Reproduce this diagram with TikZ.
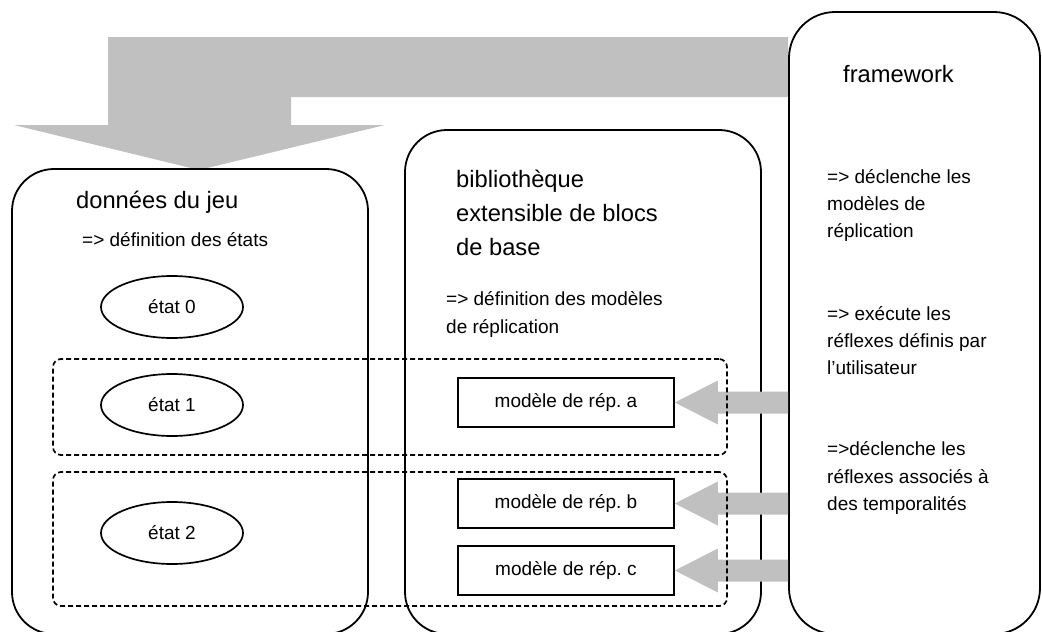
\documentclass[tikz,border=0pt]{standalone}
\usepackage{fontspec}
\setmainfont{Liberation Sans}
\usetikzlibrary{shapes.geometric,calc}
\definecolor{arrowgray}{RGB}{192,192,192}
\frenchspacing
\begin{document}
\begin{tikzpicture}[x=1pt,y=-1pt,
  bigtext/.style={font=\fontsize{23.7}{28}\selectfont, anchor=base west, inner sep=0pt},
  smalltext/.style={font=\fontsize{19}{23}\selectfont, anchor=base west, inner sep=0pt},
  bigbox/.style={draw, line width=1.8pt, rounded corners=42pt, inner sep=0pt},
  groupbox/.style={draw, line width=1.7pt, dash pattern=on 5pt off 3pt, rounded corners=8pt, inner sep=0pt, minimum width=674pt},
  stateell/.style={draw, ellipse, line width=1.7pt, inner sep=0pt, minimum width=142pt, minimum height=62pt, font=\fontsize{19}{23}\selectfont},
  modelbox/.style={draw, line width=1.7pt, inner sep=0pt, minimum width=216pt, minimum height=49pt, font=\fontsize{19}{23}\selectfont},
  blockarrow/.style={fill=arrowgray, draw=none}
]
\useasboundingbox (0,0) rectangle (1042,632);
\clip (0,0) rectangle (1042,632);

% big top arrow
\fill[blockarrow] (108,37) -- (788,37) -- (788,97) -- (291,97) -- (291,125)
  -- (385,125) -- (199,170) -- (14,125) -- (108,125) -- cycle;

% main boxes
\node[bigbox, minimum width=356pt, minimum height=465pt] (dj) at (190,401.5) {};
\node[bigbox, minimum width=356pt, minimum height=504pt] (bib) at (583,382) {};
\node[bigbox, rounded corners=46pt, minimum width=251pt, minimum height=622pt] (fw) at (914.5,323) {};

% model boxes
\node[modelbox] (ma) at (566,402.5) {modèle de rép. a};
\node[modelbox] (mb) at (566,503.5) {modèle de rép. b};
\node[modelbox] (mc) at (566,570.5) {modèle de rép. c};

% small block arrows from framework to models
\foreach \m in {ma,mb,mc}{
  \fill[blockarrow] (\m.east) -- ++(43,-22) -- ++(0,11) -- ($(fw.west |- \m.east)+(0,-11)$)
    -- ($(fw.west |- \m.east)+(0,11)$) -- ($(\m.east)+(43,11)$) -- ++(0,11) -- cycle;
}

% dashed groups
\node[groupbox, minimum height=96pt] (g1) at (390,407) {};
\node[groupbox, minimum height=134pt] (g2) at (390,539) {};

% states
\node[stateell] (e0) at (172,307) {état 0};
\node[stateell] (e1) at (172,405) {état 1};
\node[stateell] (e2) at (172,533) {état 2};

% texts left box
\node[bigtext] (t1) at (76,208) {données du jeu};
\node[smalltext] (t2) at (82,246) {=> définition des états};

% texts middle box
\node[bigtext] (t3) at (456,187) {bibliothèque};
\node[bigtext] (t4) at (456,221) {extensible de blocs};
\node[bigtext] (t5) at (456,255) {de base};
\node[smalltext] (t6) at (446,305) {=> définition des modèles};
\node[smalltext] (t7) at (446,333) {de réplication};

% texts framework
\node[bigtext] (t8) at (843,82) {framework};
\node[smalltext] (f1) at (827,183) {=> déclenche les};
\node[smalltext] (f2) at (827,210) {modèles de};
\node[smalltext] (f3) at (827,237) {réplication};
\node[smalltext] (f4) at (827,320) {=> exécute les};
\node[smalltext] (f5) at (827,347) {réflexes définis par};
\node[smalltext] (f6) at (827,374) {l’utilisateur};
\node[smalltext] (f7) at (827,455) {=>déclenche les};
\node[smalltext] (f8) at (827,483) {réflexes associés à};
\node[smalltext] (f9) at (827,510) {des temporalités};
\end{tikzpicture}
\end{document}
